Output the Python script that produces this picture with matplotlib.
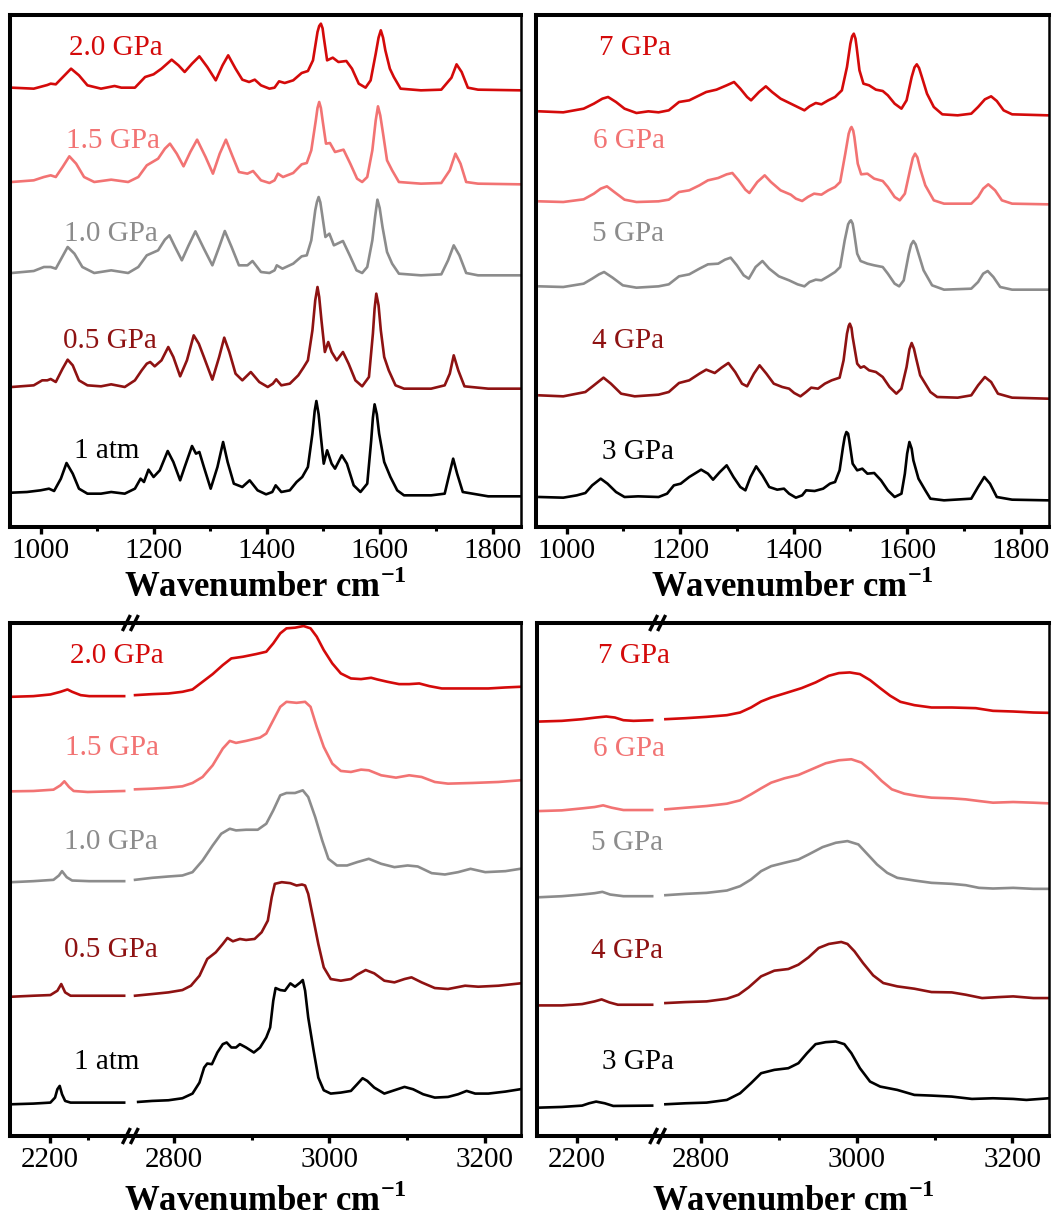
import matplotlib
matplotlib.use("Agg")
import matplotlib.pyplot as plt
from matplotlib.lines import Line2D
from matplotlib.ticker import FixedLocator

plt.rcParams['font.family'] = ['Liberation Serif', 'DejaVu Serif']
plt.rcParams['mathtext.fontset'] = 'custom'
plt.rcParams['mathtext.rm'] = 'Liberation Serif'
plt.rcParams['mathtext.bf'] = 'Liberation Serif:bold'

# ---------------------------------------------------------------
# Raman spectra, 950-1850 cm-1, low pressure series (intensity a.u.)
# ---------------------------------------------------------------
low_labels = ["2.0 GPa", "1.5 GPa", "1.0 GPa", "0.5 GPa", "1 atm"]

lo_20_x = [949, 988, 1012, 1018, 1027, 1054, 1068, 1083, 1107, 1131, 1143, 1167, 1185, 1200, 1214, 1232, 1244, 1255, 1268, 1281, 1295, 1310, 1322, 1332, 1345, 1357, 1369, 1379, 1390, 1405, 1414, 1422, 1432, 1447, 1462, 1473, 1482, 1490, 1493, 1496, 1499, 1501, 1507, 1517, 1527, 1541, 1551, 1563, 1575, 1584, 1593, 1598, 1602, 1606, 1610, 1618, 1625, 1637, 1673, 1709, 1727, 1736, 1745, 1756, 1774, 1849]
lo_20_y = [0, -3, 8, 12, 10, 57, 37, 7, -3, 5, 0, 0, 32, 40, 57, 84, 67, 47, 72, 94, 62, 22, 67, 97, 57, 24, 17, 24, 7, -3, 0, 19, 14, 22, 44, 50, 82, 167, 185, 192, 178, 152, 82, 90, 77, 80, 57, 12, 0, 22, 102, 150, 172, 150, 112, 57, 32, -3, -8, -6, 30, 70, 47, 0, -6, -8]

lo_15_x = [949, 988, 1006, 1018, 1027, 1039, 1051, 1063, 1077, 1095, 1125, 1155, 1173, 1188, 1208, 1220, 1229, 1241, 1253, 1265, 1277, 1292, 1305, 1317, 1328, 1339, 1351, 1366, 1376, 1390, 1405, 1414, 1420, 1429, 1447, 1462, 1471, 1479, 1487, 1490, 1493, 1496, 1499, 1505, 1512, 1521, 1536, 1548, 1560, 1569, 1578, 1587, 1593, 1597, 1601, 1606, 1613, 1622, 1634, 1673, 1709, 1724, 1734, 1743, 1753, 1774, 1849]
lo_15_y = [0, 5, 15, 20, 15, 45, 77, 55, 15, 0, 7, 0, 15, 50, 70, 100, 115, 85, 47, 90, 127, 75, 25, 85, 127, 80, 30, 25, 33, 5, -3, 5, 25, 15, 27, 53, 57, 95, 185, 222, 240, 222, 185, 115, 117, 90, 97, 55, 10, 0, 15, 95, 185, 227, 200, 145, 65, 35, 0, -5, -3, 35, 85, 55, 0, -5, -7]

lo_10_x = [949, 988, 1006, 1018, 1027, 1048, 1060, 1074, 1095, 1125, 1155, 1173, 1188, 1208, 1220, 1228, 1238, 1250, 1262, 1274, 1289, 1304, 1316, 1326, 1338, 1351, 1366, 1375, 1390, 1405, 1414, 1418, 1428, 1447, 1462, 1471, 1479, 1486, 1489, 1492, 1495, 1498, 1504, 1511, 1519, 1535, 1547, 1559, 1569, 1578, 1587, 1592, 1596, 1600, 1605, 1613, 1622, 1634, 1673, 1709, 1721, 1731, 1741, 1753, 1774, 1849]
lo_10_y = [0, 6, 18, 18, 13, 78, 58, 18, 0, 8, 0, 18, 53, 68, 100, 113, 78, 38, 83, 125, 73, 23, 78, 126, 78, 23, 23, 36, 3, 0, 8, 23, 13, 28, 50, 53, 98, 188, 213, 228, 212, 178, 108, 118, 83, 96, 53, 8, 0, 18, 98, 170, 220, 195, 138, 63, 28, -2, -7, -4, 38, 83, 53, 0, -7, -7]

lo_05_x = [949, 988, 1003, 1012, 1018, 1027, 1039, 1048, 1057, 1068, 1083, 1107, 1125, 1149, 1167, 1179, 1188, 1194, 1202, 1214, 1226, 1235, 1247, 1259, 1271, 1280, 1289, 1304, 1316, 1325, 1334, 1345, 1357, 1372, 1387, 1402, 1411, 1417, 1426, 1441, 1456, 1465, 1473, 1481, 1486, 1490, 1493, 1497, 1503, 1509, 1515, 1524, 1535, 1545, 1557, 1569, 1581, 1588, 1591, 1594, 1598, 1602, 1608, 1616, 1628, 1643, 1691, 1715, 1724, 1731, 1739, 1750, 1792, 1849]
lo_05_y = [0, 5, 20, 20, 24, 15, 55, 82, 65, 20, 5, 2, 8, 0, 20, 50, 70, 75, 62, 80, 120, 90, 32, 80, 155, 130, 90, 22, 90, 148, 105, 40, 20, 45, 15, 0, 10, 23, 5, 10, 35, 58, 80, 170, 260, 300, 270, 200, 105, 135, 105, 80, 105, 70, 20, 2, 30, 160, 235, 280, 245, 170, 90, 50, 5, -5, -5, 5, 40, 95, 50, 2, -5, -5]

lo_atm_x = [949, 976, 1000, 1015, 1024, 1036, 1046, 1057, 1068, 1083, 1107, 1125, 1149, 1167, 1177, 1183, 1191, 1200, 1211, 1225, 1235, 1247, 1255, 1268, 1275, 1281, 1289, 1301, 1313, 1323, 1331, 1342, 1357, 1370, 1384, 1399, 1410, 1416, 1426, 1441, 1453, 1463, 1473, 1481, 1485, 1488, 1492, 1496, 1501, 1507, 1515, 1521, 1533, 1542, 1554, 1566, 1578, 1585, 1588, 1591, 1595, 1599, 1608, 1619, 1631, 1643, 1691, 1715, 1722, 1730, 1737, 1747, 1792, 1849]
lo_atm_y = [0, 2, 7, 12, 5, 42, 89, 57, 12, -3, -3, 2, -3, 12, 42, 32, 69, 47, 67, 125, 92, 37, 77, 140, 117, 122, 77, 12, 77, 152, 92, 27, 17, 37, 7, -5, 2, 22, 2, 7, 32, 47, 77, 177, 245, 275, 235, 167, 87, 127, 87, 72, 112, 87, 22, 2, 27, 157, 225, 265, 235, 177, 92, 47, 7, -8, -8, -3, 47, 102, 57, 2, -11, -11]

# ---------------------------------------------------------------
# Raman spectra, 950-1850 cm-1, high pressure series
# ---------------------------------------------------------------
high_labels = ["7 GPa", "6 GPa", "5 GPa", "4 GPa", "3 GPa"]

hi_7_x = [952, 994, 1030, 1048, 1063, 1073, 1087, 1102, 1123, 1144, 1162, 1180, 1198, 1216, 1234, 1246, 1264, 1282, 1295, 1306, 1318, 1325, 1339, 1351, 1362, 1377, 1395, 1407, 1419, 1428, 1439, 1449, 1461, 1473, 1485, 1494, 1500, 1503, 1506, 1509, 1511, 1516, 1523, 1533, 1545, 1557, 1566, 1578, 1590, 1599, 1608, 1613, 1617, 1621, 1626, 1635, 1647, 1662, 1689, 1713, 1725, 1737, 1748, 1758, 1770, 1785, 1848]
hi_7_y = [0, -3, 8, 23, 38, 43, 28, 8, -5, 0, -3, 3, 28, 33, 48, 58, 65, 78, 88, 68, 43, 33, 58, 75, 58, 38, 23, 13, 3, 15, 25, 21, 33, 43, 63, 133, 203, 225, 233, 218, 193, 123, 83, 78, 65, 61, 48, 23, 8, 33, 103, 132, 141, 130, 103, 53, 13, -9, -12, -7, 13, 36, 45, 31, 3, -9, -12]

hi_6_x = [952, 994, 1030, 1048, 1060, 1071, 1084, 1102, 1123, 1162, 1180, 1198, 1216, 1234, 1249, 1267, 1282, 1292, 1303, 1315, 1322, 1336, 1349, 1360, 1377, 1395, 1404, 1415, 1425, 1436, 1449, 1461, 1473, 1482, 1491, 1497, 1500, 1502, 1505, 1507, 1513, 1519, 1530, 1542, 1557, 1566, 1578, 1587, 1596, 1605, 1610, 1614, 1618, 1623, 1632, 1647, 1665, 1713, 1725, 1734, 1743, 1755, 1767, 1785, 1848]
hi_6_y = [0, -2, 6, 23, 38, 45, 28, 5, -2, 0, 5, 28, 33, 48, 63, 70, 81, 85, 63, 35, 25, 58, 78, 58, 33, 20, 8, 1, 13, 23, 20, 33, 43, 58, 143, 203, 218, 223, 212, 193, 113, 81, 83, 68, 61, 43, 13, 3, 23, 93, 130, 143, 132, 98, 48, 3, -7, -7, 13, 38, 51, 33, 3, -7, -9]

hi_5_x = [952, 994, 1030, 1045, 1057, 1066, 1081, 1099, 1123, 1162, 1180, 1198, 1216, 1234, 1249, 1267, 1279, 1289, 1300, 1312, 1321, 1333, 1345, 1357, 1374, 1392, 1407, 1419, 1428, 1439, 1449, 1461, 1473, 1482, 1490, 1496, 1499, 1501, 1504, 1506, 1512, 1518, 1530, 1542, 1557, 1566, 1578, 1586, 1594, 1603, 1607, 1611, 1615, 1620, 1629, 1644, 1665, 1713, 1725, 1734, 1742, 1752, 1764, 1785, 1848]
hi_5_y = [0, -2, 8, 23, 36, 43, 26, 3, -4, 0, 6, 30, 36, 53, 66, 68, 80, 86, 63, 33, 23, 58, 76, 53, 30, 18, 6, 0, 13, 20, 18, 30, 43, 58, 138, 186, 195, 198, 188, 168, 98, 76, 68, 63, 58, 38, 8, 0, 18, 98, 125, 136, 126, 98, 48, 3, -10, -7, 13, 38, 46, 28, -2, -10, -10]

hi_4_x = [952, 994, 1033, 1048, 1065, 1078, 1096, 1120, 1162, 1180, 1198, 1216, 1234, 1246, 1261, 1273, 1285, 1297, 1309, 1318, 1330, 1340, 1352, 1365, 1380, 1392, 1401, 1412, 1422, 1431, 1443, 1455, 1467, 1481, 1488, 1494, 1497, 1499, 1502, 1504, 1512, 1518, 1524, 1533, 1545, 1557, 1569, 1581, 1590, 1599, 1604, 1608, 1612, 1616, 1623, 1632, 1641, 1653, 1689, 1713, 1725, 1737, 1748, 1760, 1785, 1848]
hi_4_y = [0, -3, 10, 30, 53, 35, 5, -3, 2, 10, 37, 45, 65, 77, 67, 83, 97, 70, 35, 27, 65, 90, 65, 35, 25, 20, 7, -3, 10, 23, 20, 35, 45, 53, 105, 185, 208, 215, 202, 175, 95, 83, 87, 75, 70, 55, 25, 5, 20, 85, 138, 157, 140, 110, 60, 35, 10, -5, -7, 0, 30, 55, 40, 5, -7, -10]

hi_3_x = [952, 994, 1018, 1033, 1045, 1060, 1072, 1087, 1102, 1126, 1162, 1177, 1189, 1201, 1216, 1237, 1249, 1258, 1270, 1282, 1294, 1306, 1315, 1324, 1334, 1345, 1357, 1371, 1383, 1392, 1404, 1415, 1422, 1437, 1452, 1464, 1473, 1481, 1487, 1490, 1493, 1496, 1498, 1504, 1512, 1521, 1530, 1542, 1554, 1566, 1578, 1590, 1596, 1600, 1604, 1608, 1611, 1620, 1632, 1641, 1665, 1713, 1725, 1736, 1746, 1758, 1785, 1848]
hi_3_y = [0, -2, 5, 12, 35, 55, 40, 15, 0, 2, 0, 10, 35, 40, 60, 82, 70, 52, 75, 95, 60, 30, 20, 60, 92, 65, 30, 22, 25, 10, -2, 5, 20, 18, 25, 40, 45, 80, 150, 180, 195, 190, 170, 100, 80, 85, 70, 72, 50, 20, 0, 10, 70, 130, 165, 145, 110, 55, 20, -5, -10, -5, 30, 60, 40, 0, -8, -10]

# ---------------------------------------------------------------
# C-H stretching region (2150-2300 and 2745-3250 cm-1), low pressure
# ---------------------------------------------------------------
ch_20_x = [2151, 2179, 2201, 2214, 2223, 2229, 2240, 2251, 2296, 2750, 2772, 2793, 2811, 2824, 2837, 2850, 2863, 2874, 2889, 2906, 2919, 2928, 2937, 2945, 2956, 2967, 2976, 2984, 2993, 3004, 3015, 3028, 3041, 3054, 3062, 3075, 3090, 3103, 3116, 3129, 3145, 3175, 3205, 3227, 3246]
ch_20_y = [0, 2, 7, 15, 22, 15, 5, 2, 2, 5, 8, 10, 15, 22, 45, 68, 95, 115, 120, 128, 135, 160, 190, 205, 207, 212, 205, 180, 140, 100, 70, 55, 53, 57, 52, 45, 38, 38, 40, 32, 25, 25, 25, 28, 30]

ch_15_x = [2151, 2179, 2205, 2214, 2219, 2225, 2231, 2249, 2296, 2750, 2772, 2793, 2811, 2824, 2837, 2850, 2863, 2872, 2880, 2893, 2911, 2919, 2928, 2937, 2945, 2958, 2969, 2976, 2984, 2993, 3004, 3015, 3028, 3041, 3051, 3067, 3086, 3103, 3119, 3136, 3153, 3184, 3218, 3246]
ch_15_y = [0, 1, 5, 18, 30, 13, 1, -2, 1, 6, 8, 11, 15, 25, 43, 78, 128, 151, 145, 151, 161, 173, 213, 253, 268, 265, 268, 253, 193, 133, 83, 61, 58, 65, 63, 48, 41, 48, 43, 28, 23, 25, 28, 33]

ch_10_x = [2151, 2179, 2205, 2212, 2216, 2222, 2229, 2251, 2296, 2750, 2772, 2793, 2811, 2824, 2837, 2850, 2861, 2872, 2880, 2893, 2908, 2919, 2928, 2937, 2945, 2956, 2966, 2973, 2982, 2991, 2999, 3010, 3023, 3036, 3051, 3067, 3084, 3101, 3114, 3132, 3149, 3166, 3182, 3201, 3227, 3246]
ch_10_y = [0, 3, 7, 20, 33, 15, 5, 3, 3, 7, 13, 17, 20, 30, 65, 110, 145, 160, 155, 157, 157, 175, 215, 260, 267, 267, 275, 255, 195, 125, 70, 50, 50, 60, 70, 55, 45, 50, 47, 27, 23, 30, 40, 30, 33, 40]

ch_05_x = [2151, 2179, 2201, 2210, 2215, 2220, 2227, 2251, 2296, 2750, 2772, 2793, 2811, 2822, 2833, 2843, 2854, 2863, 2869, 2876, 2885, 2893, 2904, 2913, 2921, 2926, 2930, 2939, 2950, 2958, 2965, 2969, 2973, 2980, 2986, 2993, 3002, 3015, 3028, 3036, 3047, 3058, 3071, 3084, 3097, 3106, 3119, 3136, 3153, 3175, 3192, 3218, 3246]
ch_05_y = [0, 3, 5, 18, 38, 13, 3, 3, 3, 3, 8, 13, 20, 33, 63, 113, 133, 158, 176, 166, 173, 170, 173, 193, 228, 298, 338, 343, 340, 333, 336, 333, 308, 228, 158, 88, 53, 48, 53, 66, 80, 70, 48, 43, 53, 58, 43, 26, 23, 33, 30, 33, 40]

ch_atm_x = [2151, 2179, 2201, 2207, 2210, 2213, 2216, 2220, 2227, 2251, 2296, 2754, 2772, 2793, 2811, 2824, 2833, 2839, 2843, 2849, 2856, 2863, 2868, 2874, 2880, 2885, 2893, 2903, 2911, 2919, 2924, 2928, 2931, 2937, 2943, 2950, 2956, 2963, 2966, 2969, 2973, 2980, 2986, 2993, 3002, 3015, 3028, 3036, 3043, 3049, 3058, 3071, 3084, 3097, 3108, 3121, 3136, 3153, 3166, 3177, 3188, 3205, 3227, 3246]
ch_atm_y = [0, 2, 5, 20, 45, 55, 30, 10, 5, 5, 5, 7, 10, 12, 18, 32, 65, 110, 122, 120, 155, 180, 185, 170, 170, 180, 170, 155, 170, 200, 230, 310, 348, 342, 340, 362, 352, 365, 372, 340, 260, 160, 80, 42, 32, 35, 40, 60, 78, 70, 50, 32, 42, 52, 45, 30, 20, 22, 30, 40, 32, 32, 38, 45]

# ---------------------------------------------------------------
# C-H stretching region, high pressure
# ---------------------------------------------------------------
chh_7_x = [2153, 2181, 2207, 2225, 2238, 2249, 2260, 2273, 2297, 2754, 2780, 2807, 2833, 2850, 2864, 2877, 2890, 2907, 2929, 2947, 2964, 2977, 2991, 3004, 3017, 3030, 3043, 3056, 3074, 3096, 3122, 3153, 3175, 3201, 3227, 3247]
chh_7_y = [0, 2, 7, 12, 15, 12, 4, 2, 4, 7, 10, 14, 19, 27, 42, 60, 72, 84, 100, 117, 137, 145, 147, 142, 124, 100, 77, 59, 49, 42, 42, 40, 32, 30, 27, 26]

chh_6_x = [2153, 2181, 2207, 2223, 2234, 2245, 2260, 2297, 2754, 2780, 2807, 2833, 2850, 2864, 2877, 2890, 2907, 2925, 2942, 2960, 2977, 2993, 3006, 3019, 3032, 3045, 3061, 3078, 3096, 3122, 3140, 3157, 3175, 3201, 3227, 3247]
chh_6_y = [0, 2, 8, 12, 17, 10, 3, 3, 5, 10, 15, 22, 32, 50, 68, 85, 98, 108, 125, 143, 152, 155, 145, 120, 90, 65, 52, 45, 40, 38, 35, 30, 25, 27, 25, 23]

chh_5_x = [2153, 2181, 2207, 2223, 2233, 2243, 2260, 2297, 2754, 2780, 2807, 2833, 2850, 2864, 2877, 2890, 2907, 2925, 2938, 2956, 2973, 2988, 3002, 3012, 3026, 3039, 3052, 3074, 3096, 3122, 3140, 3157, 3175, 3201, 3227, 3247]
chh_5_y = [0, 3, 8, 12, 16, 8, 3, 3, 6, 10, 13, 20, 33, 53, 78, 93, 103, 113, 128, 150, 163, 168, 158, 133, 98, 73, 58, 50, 43, 40, 36, 28, 26, 28, 25, 25]

chh_4_x = [2153, 2181, 2207, 2223, 2232, 2242, 2253, 2297, 2754, 2780, 2807, 2833, 2848, 2861, 2877, 2894, 2912, 2925, 2938, 2951, 2964, 2980, 2988, 2997, 3008, 3021, 3034, 3052, 3074, 3096, 3122, 3140, 3161, 3183, 3201, 3227, 3247]
chh_4_y = [0, 0, 4, 12, 18, 9, 2, 2, 7, 10, 12, 20, 32, 54, 87, 104, 109, 122, 144, 172, 184, 190, 184, 162, 127, 90, 67, 57, 50, 40, 39, 32, 22, 25, 27, 22, 22]

chh_3_x = [2153, 2181, 2207, 2216, 2225, 2236, 2247, 2297, 2754, 2780, 2807, 2833, 2850, 2864, 2877, 2894, 2912, 2925, 2936, 2947, 2960, 2973, 2984, 2993, 3004, 3017, 3030, 3052, 3074, 3096, 3122, 3148, 3175, 3201, 3218, 3247]
chh_3_y = [0, 2, 6, 13, 18, 13, 5, 6, 10, 13, 15, 23, 43, 73, 103, 113, 118, 133, 163, 190, 196, 198, 190, 163, 118, 78, 63, 53, 38, 36, 33, 26, 28, 26, 23, 28]

# vertical stacking of the traces (same a.u.) and label anchors
low_fp_offsets = [1318, 1035, 762, 420, 103]
high_fp_offsets = [1247, 977, 722, 395, 90]
low_ch_offsets = [1315, 1032, 760, 417, 95]
high_ch_offsets = [1241, 973, 715, 391, 85]

low_fp_label_x = [1051, 1045, 1042, 1040, 1060]
low_fp_label_y = [1438, 1158, 878, 558, 228]
high_fp_label_x = [1057, 1047, 1045, 1045, 1063]
high_fp_label_y = [1438, 1158, 878, 558, 225]
low_ch_label_x = [2226, 2220, 2218, 2218, 2231]
low_ch_label_y = [1438, 1161, 880, 558, 223]
high_ch_label_x = [2227, 2221, 2218, 2218, 2232]
high_ch_label_y = [1438, 1158, 876, 554, 221]

trace_colors = ['#d40a0a', '#f27373', '#8c8c8c', '#8e1212', '#000000']

fp_xlim = (946, 1850)
fp_major = [1000, 1200, 1400, 1600, 1800]
fp_minor = [1100, 1300, 1500, 1700]
ch_low_xlim = (2149, 2304)
ch_high_xlim = (2744, 3247)
ch_low_major = [2200]
ch_low_minor = [2250]
ch_high_major = [2800, 3000, 3200]
ch_high_minor = [2900, 3100]
y_span = 1536

# ---------------------------------------------------------------
W, H = 1057, 1218
fig = plt.figure(figsize=(W / 100, H / 100), dpi=100)
fig.patch.set_facecolor('white')


def px_rect(l, t, r, b):
    return [l / W, 1 - b / H, (r - l) / W, (b - t) / H]


SPINE_W = 2.9
TICK_FS = 21
LABEL_FS = 21
LINE_W = 1.9


def style(ax, hide=None):
    for s in ['left', 'top', 'bottom', 'right']:
        ax.spines[s].set_linewidth(SPINE_W)
        ax.spines[s].set_color('black')
    ax.spines['right'].set_linewidth(1.8)
    if hide:
        ax.spines[hide].set_visible(False)
    ax.set_yticks([])
    ax.tick_params(axis='x', which='major', direction='out', length=5,
                   width=2.4, labelsize=TICK_FS, pad=3, top=False)
    ax.tick_params(axis='x', which='minor', direction='out', length=3,
                   width=2.2, top=False)
    ax.set_ylim(0, y_span)


def xlabel(cx, baseline):
    fig.text(cx / W, 1 - baseline / H, r"Wavenumber cm$^{\mathbf{-1}}$",
             ha='center', va='baseline', fontsize=25, fontweight='bold')


def fingerprint_panel(rect, xs, ys, offsets, labels, lx, ly):
    ax = fig.add_axes(px_rect(*rect))
    style(ax)
    for x, y, off, col, lab, tx, ty in zip(xs, ys, offsets, trace_colors,
                                           labels, lx, ly):
        ax.plot(x, [v + off for v in y], color=col, lw=LINE_W,
                solid_joinstyle='round')
        ax.text(tx, ty, lab, color=col, fontsize=LABEL_FS, ha='left',
                va='center')
    ax.set_xlim(*fp_xlim)
    ax.xaxis.set_major_locator(FixedLocator(fp_major))
    ax.xaxis.set_minor_locator(FixedLocator(fp_minor))
    l, t, r, b = rect
    xlabel((l + r) / 2, b + 70)


def slash(xp, yp):
    for dx in (-4, 4):
        x0, y0 = xp + dx - 4, yp + 8
        x1, y1 = xp + dx + 4, yp - 8
        fig.add_artist(Line2D([x0 / W, x1 / W], [1 - y0 / H, 1 - y1 / H],
                              transform=fig.transFigure, color='black',
                              lw=2.4, solid_capstyle='butt'))


def ch_panel(rect, xs, ys, offsets, labels, lx, ly):
    l, t, r, b = rect
    w_lo = ch_low_xlim[1] - ch_low_xlim[0]
    w_hi = ch_high_xlim[1] - ch_high_xlim[0]
    bx = l + (r - l) * w_lo / (w_lo + w_hi)
    ax_lo = fig.add_axes(px_rect(l, t, bx, b))
    ax_hi = fig.add_axes(px_rect(bx, t, r, b))
    ax_hi.patch.set_visible(False)
    style(ax_lo, hide='right')
    style(ax_hi, hide='left')
    for x, y, off, col in zip(xs, ys, offsets, trace_colors):
        lo = [(a, v + off) for a, v in zip(x, y) if a < 2500]
        hi = [(a, v + off) for a, v in zip(x, y) if a >= 2500]
        ax_lo.plot([p[0] for p in lo], [p[1] for p in lo], color=col,
                   lw=LINE_W, solid_joinstyle='round')
        ax_hi.plot([p[0] for p in hi], [p[1] for p in hi], color=col,
                   lw=LINE_W, solid_joinstyle='round')
    for lab, col, tx, ty in zip(labels, trace_colors, lx, ly):
        ax_lo.text(tx, ty, lab, color=col, fontsize=LABEL_FS, ha='left',
                   va='center', clip_on=False, zorder=10)
    ax_lo.set_xlim(*ch_low_xlim)
    ax_hi.set_xlim(*ch_high_xlim)
    ax_lo.xaxis.set_major_locator(FixedLocator(ch_low_major))
    ax_lo.xaxis.set_minor_locator(FixedLocator(ch_low_minor))
    ax_hi.xaxis.set_major_locator(FixedLocator(ch_high_major))
    ax_hi.xaxis.set_minor_locator(FixedLocator(ch_high_minor))
    slash(bx, t)
    slash(bx, b)
    xlabel((l + r) / 2, b + 75)


fingerprint_panel((10, 15, 521, 527),
                  [lo_20_x, lo_15_x, lo_10_x, lo_05_x, lo_atm_x],
                  [lo_20_y, lo_15_y, lo_10_y, lo_05_y, lo_atm_y],
                  low_fp_offsets, low_labels, low_fp_label_x, low_fp_label_y)
fingerprint_panel((536, 15, 1049, 527),
                  [hi_7_x, hi_6_x, hi_5_x, hi_4_x, hi_3_x],
                  [hi_7_y, hi_6_y, hi_5_y, hi_4_y, hi_3_y],
                  high_fp_offsets, high_labels, high_fp_label_x, high_fp_label_y)
ch_panel((10, 623, 521, 1136),
         [ch_20_x, ch_15_x, ch_10_x, ch_05_x, ch_atm_x],
         [ch_20_y, ch_15_y, ch_10_y, ch_05_y, ch_atm_y],
         low_ch_offsets, low_labels, low_ch_label_x, low_ch_label_y)
ch_panel((537, 623, 1049, 1136),
         [chh_7_x, chh_6_x, chh_5_x, chh_4_x, chh_3_x],
         [chh_7_y, chh_6_y, chh_5_y, chh_4_y, chh_3_y],
         high_ch_offsets, high_labels, high_ch_label_x, high_ch_label_y)

fig.savefig("out.png", dpi=100, facecolor='white')
